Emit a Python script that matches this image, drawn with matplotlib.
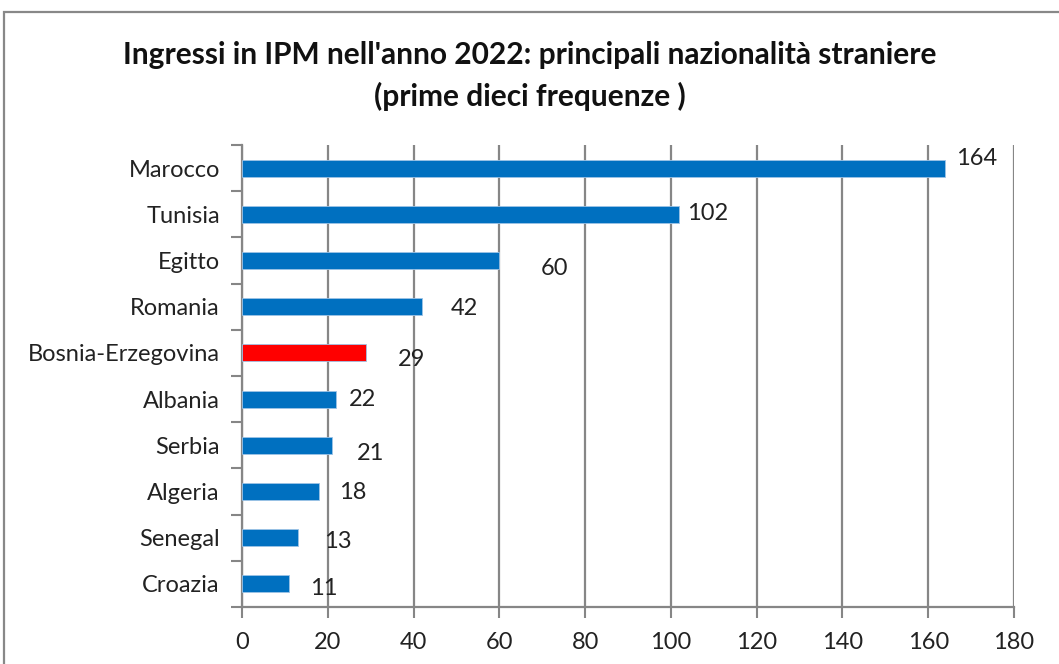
import matplotlib.pyplot as plt
from matplotlib.patches import Rectangle

countries = ["Marocco", "Tunisia", "Egitto", "Romania", "Bosnia-Erzegovina",
             "Albania", "Serbia", "Algeria", "Senegal", "Croazia"]
ingressi = [164, 102, 60, 42, 29, 22, 21, 18, 13, 11]
highlight = "Bosnia-Erzegovina"

# label offsets (pixels) copied from the hand-placed labels in the original
label_dx = [11, 8, 41, 29, 31, 13, 25, 20, 26, 21]
label_dy = [10, 1, -8, -2, -7, 0, -8, -1, -4, -5]

plt.rcParams['font.family'] = ['Lato', 'DejaVu Sans']

fig = plt.figure(figsize=(10.59, 6.64), dpi=100)
ax = fig.add_axes([242 / 1059, 1 - 607 / 664, 772 / 1059, 462 / 664])

blue = "#0070C0"
colors = ["#FF0000" if c == highlight else blue for c in countries]
ypos = list(range(len(countries)))
ax.barh(ypos, ingressi, height=0.37, color=colors, edgecolor="#9DC3E6",
        linewidth=0.6, zorder=3)
ax.set_ylim(len(countries) - 0.5, -0.5)
ax.set_xlim(0, 180)
ax.set_xticks(range(0, 181, 20))

ax.set_yticks(ypos)
ax.set_yticklabels(countries)
ax.set_yticks([i - 0.5 for i in range(len(countries) + 1)], minor=True)
ax.tick_params(axis='y', which='major', length=0, pad=16, labelsize=17,
               labelcolor="#222222")
ax.tick_params(axis='y', which='minor', length=8, width=1.5, color="#868686")
ax.tick_params(axis='x', length=8, width=1.5, color="#868686", pad=10,
               labelsize=17, labelcolor="#222222")

ax.grid(axis='x', color="#868686", linewidth=1.6, zorder=0)
for side in ("top", "right"):
    ax.spines[side].set_visible(False)
for side in ("left", "bottom"):
    ax.spines[side].set_color("#868686")
    ax.spines[side].set_linewidth(1.6)

for i, v in enumerate(ingressi):
    ax.annotate(str(v), (v, i), xytext=(label_dx[i], label_dy[i]),
                textcoords='offset pixels', ha='left', va='center',
                fontsize=17, color="#222222", zorder=4)

fig.text(0.5, 1 - 55 / 664, "Ingressi in IPM nell'anno 2022: principali nazionalità straniere",
         ha='center', va='center', fontsize=21.5, fontweight='bold', color="#111111")
fig.text(0.5, 1 - 96 / 664, "(prime dieci frequenze )",
         ha='center', va='center', fontsize=21.5, fontweight='bold', color="#111111")

fig.patches.append(Rectangle((4 / 1059, -0.1), 1.2, 1.1 - 12.5 / 664 + 0.0001,
                             transform=fig.transFigure, fill=False,
                             edgecolor="#888888", linewidth=1.6))

fig.savefig("out.png", dpi=100)
